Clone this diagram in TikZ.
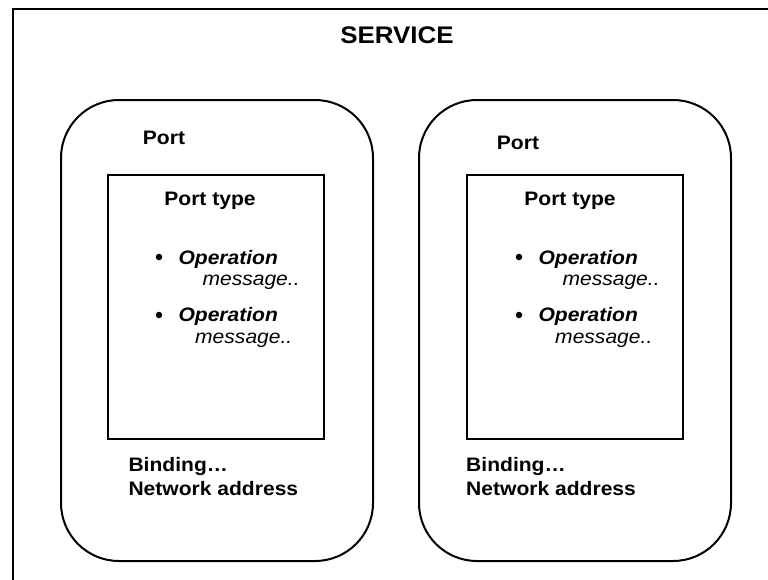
\documentclass[tikz,border=0pt]{standalone}
\usepackage{fontspec}
\setmainfont[FakeStretch=1.08]{Liberation Sans}
\usetikzlibrary{positioning}

\tikzset{
  portbox/.style={draw, line width=2pt, rounded corners=58pt, minimum width=312pt, minimum height=461pt, inner sep=0pt},
  typebox/.style={draw, line width=1.3pt, minimum width=216pt, minimum height=264pt, inner sep=0pt},
  txt/.style={inner sep=0pt, anchor=base west, font=\fontsize{19.5}{23}\selectfont},
  btxt/.style={txt, font=\fontsize{19.5}{23}\selectfont\bfseries},
  optxt/.style={txt, font=\fontsize{19.5}{23}\selectfont\bfseries\itshape},
  msgtxt/.style={txt, font=\fontsize{19.5}{23}\selectfont\itshape},
  dot/.style={circle, fill, inner sep=0pt, minimum size=6.5pt}
}

\begin{document}
\begin{tikzpicture}[x=1pt, y=-1pt]

\clip (0,0) rectangle (768,579);

% service frame (right and bottom edges lie outside the picture)
\draw [line width=1.5pt] (13,9) rectangle (800,620);
\node [btxt, anchor=base, font=\fontsize{24}{28}\selectfont\bfseries] (service) at (397,43.3) {SERVICE};

% left port
\node [portbox] (port1) at (217,330.5) {};
\node [typebox] (type1) at (216,307) {};
\node [btxt] (portlbl1) at (142.7,144.3) {Port};
\node [btxt, anchor=base] (typelbl1) at (210,205) {Port type};
\node [dot] (b11) at (159,257) {};
\node [optxt] (op11) at (178.3,264) {Operation};
\node [msgtxt] (msg11) at (202.3,285.5) {message..};
\node [dot] (b12) at (159,315) {};
\node [optxt] (op12) at (178.3,321.7) {Operation};
\node [msgtxt] (msg12) at (195,343) {message..};
\node [btxt] (bind1) at (128.3,471.7) {Binding…};
\node [btxt] (addr1) at (128.3,495) {Network address};

% right port
\node [portbox] (port2) at (575,330.5) {};
\node [typebox] (type2) at (575,307) {};
\node [btxt] (portlbl2) at (496.7,149) {Port};
\node [btxt, anchor=base] (typelbl2) at (570,205) {Port type};
\node [dot] (b21) at (519,257) {};
\node [optxt] (op21) at (538.3,264) {Operation};
\node [msgtxt] (msg21) at (562.3,285.5) {message..};
\node [dot] (b22) at (519,315) {};
\node [optxt] (op22) at (538.3,321.7) {Operation};
\node [msgtxt] (msg22) at (555,343) {message..};
\node [btxt] (bind2) at (466,471.7) {Binding…};
\node [btxt] (addr2) at (466,495) {Network address};

\end{tikzpicture}
\end{document}
